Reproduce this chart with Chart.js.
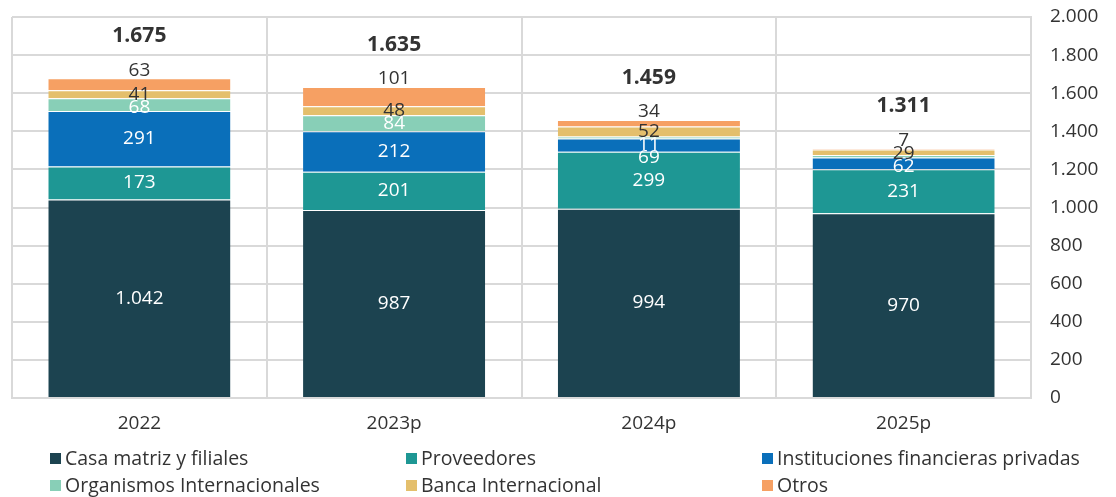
<!DOCTYPE html>
<html>
<head>
<meta charset="utf-8">
<script src="https://cdn.jsdelivr.net/npm/chart.js@4.4.1/dist/chart.umd.min.js"></script>
<style>
  html, body { margin: 0; padding: 0; background: #fff; }
  #wrap { width: 1116px; height: 497px; }
</style>
</head>
<body>
<div id="wrap"><canvas id="myChart" width="1116" height="497"></canvas></div>
<script>
// Data
const years = ['2022', '2023p', '2024p', '2025p'];
const casaMatriz = [1042, 987, 994, 970];
const proveedores = [173, 201, 299, 231];
const instituciones = [291, 212, 69, 62];
const organismos = [68, 84, 11, 12];
const bancaInternacional = [41, 48, 52, 29];
const otros = [63, 101, 34, 7];
const totals = [1675, 1635, 1459, 1311];
const yMax = 2000;
const yStep = 200;
// segments that carry no value label in the original
const unlabeled = ['Organismos Internacionales|2025p'];

const FONT = '"Open Sans", "Noto Sans", sans-serif';
const TEXT = '#333333';
const GRID = '#d9d9d9';

// 1675 -> "1.675"
function fmt(v) {
    return String(v).replace(/\B(?=(\d{3})+(?!\d))/g, '.');
}

function series(label, data, color, labelColor) {
    return {
        label: label,
        data: data,
        backgroundColor: color,
        borderColor: 'rgba(255,255,255,0.35)',
        borderWidth: { top: 1, bottom: 0, left: 0, right: 0 },
        labelColor: labelColor
    };
}

// value labels inside the stacks + totals above them
const segLabels = {
    id: 'segLabels',
    afterDatasetsDraw(chart) {
        const ctx = chart.ctx;
        const n = chart.data.datasets.length;
        ctx.save();
        ctx.textAlign = 'center';
        ctx.textBaseline = 'middle';
        years.forEach((yr, i) => {
            let prev = -Infinity;
            let top = null;
            let x = 0;
            for (let d = n - 1; d >= 0; d--) {
                const ds = chart.data.datasets[d];
                const bar = chart.getDatasetMeta(d).data[i];
                if (top === null) { top = bar.y; x = bar.x; }
                if (unlabeled.includes(ds.label + '|' + yr)) continue;
                let y = d === n - 1 ? bar.y - 8 : (bar.y + bar.base) / 2;
                y = Math.max(y, prev + 13);
                ctx.fillStyle = ds.labelColor;
                ctx.font = '19px ' + FONT;
                ctx.fillText(fmt(ds.data[i]), bar.x, y);
                prev = y;
            }
            ctx.fillStyle = TEXT;
            ctx.font = 'bold 21px ' + FONT;
            ctx.fillText(fmt(totals[i]), x, top - 42);
        });
        ctx.restore();
    }
};

// legend in three fixed columns, two rows
const gridLegend = {
    id: 'gridLegend',
    afterDraw(chart) {
        const ctx = chart.ctx;
        const cols = [50, 406, 762];
        const rows = [458, 485];
        ctx.save();
        ctx.font = '19.5px ' + FONT;
        ctx.textAlign = 'left';
        ctx.textBaseline = 'middle';
        chart.data.datasets.forEach((ds, k) => {
            const x = cols[k % 3];
            const y = rows[Math.floor(k / 3)];
            ctx.fillStyle = ds.backgroundColor;
            ctx.fillRect(x, y - 5, 11, 11);
            ctx.fillStyle = TEXT;
            ctx.fillText(ds.label, x + 15, y + 1);
        });
        ctx.restore();
    }
};

const ctx = document.getElementById('myChart').getContext('2d');
const myChart = new Chart(ctx, {
    type: 'bar',
    data: {
        labels: years,
        datasets: [
            series('Casa matriz y filiales', casaMatriz, '#1c4350', '#ffffff'),
            series('Proveedores', proveedores, '#1e9794', '#ffffff'),
            series('Instituciones financieras privadas', instituciones, '#0a6fba', '#ffffff'),
            series('Organismos Internacionales', organismos, '#88cfb7', '#ffffff'),
            series('Banca Internacional', bancaInternacional, '#e4bf6c', TEXT),
            series('Otros', otros, '#f6a063', TEXT)
        ]
    },
    options: {
        responsive: false,
        animation: false,
        devicePixelRatio: 1,
        layout: { padding: { left: 12, top: 17, right: 0, bottom: 57 } },
        plugins: {
            legend: { display: false },
            tooltip: { enabled: false }
        },
        datasets: {
            bar: { categoryPercentage: 1, barPercentage: 0.715 }
        },
        scales: {
            x: {
                stacked: true,
                grid: { color: GRID, lineWidth: 2, drawTicks: false, offset: true },
                border: { color: GRID, width: 2 },
                ticks: { color: TEXT, font: { family: FONT, size: 19 }, padding: 14 },
                afterFit: s => { s.height = 42; }
            },
            y: {
                stacked: true,
                position: 'right',
                min: 0,
                max: yMax,
                grid: { color: GRID, lineWidth: 2, drawTicks: false },
                border: { color: GRID, width: 2 },
                ticks: {
                    stepSize: yStep,
                    color: TEXT,
                    font: { family: FONT, size: 19 },
                    padding: 19,
                    callback: v => fmt(v)
                },
                afterFit: s => {
                    s.width = 85;
                    // let layout.padding decide the top/bottom space
                    s.paddingTop = 0;
                    s.paddingBottom = 0;
                }
            }
        }
    },
    plugins: [segLabels, gridLegend]
});
</script>
</body>
</html>
